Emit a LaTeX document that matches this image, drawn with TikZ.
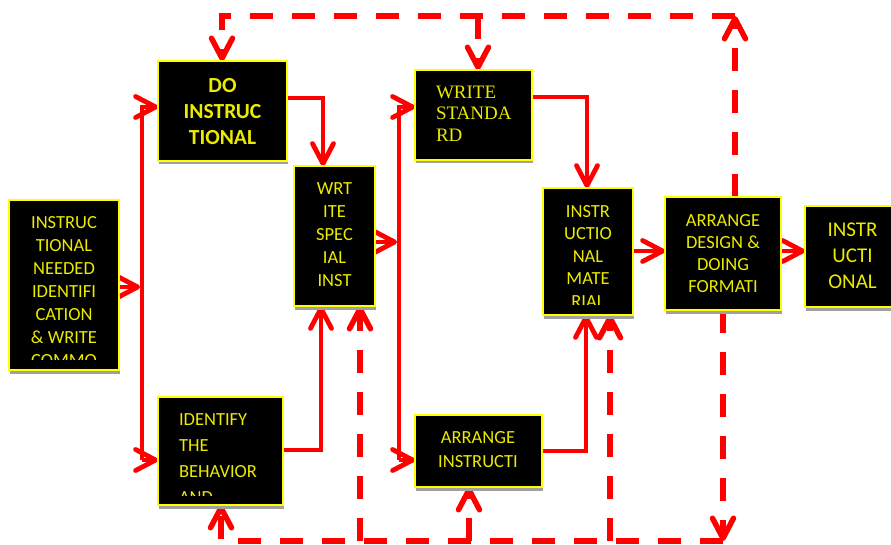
\documentclass[tikz,border=0pt]{standalone}
\usepackage{fontspec}
\newfontfamily\calfont{Carlito}
\newfontfamily\timesfont{Liberation Serif}
\usetikzlibrary{arrows.meta,shadows}
\pgfdeclarelayer{bg}
\pgfsetlayers{bg,main}
\definecolor{lred}{RGB}{255,0,0}
\definecolor{byel}{RGB}{255,255,0}
\definecolor{tyel}{RGB}{235,235,0}
\definecolor{shgray}{RGB}{160,160,160}
\begin{document}
\begin{tikzpicture}[x=1pt,y=-1pt,
  box/.style={draw=byel, line width=1.8pt, fill=black, rectangle, anchor=north west,
    inner sep=0pt, outer sep=0pt,
    drop shadow={shadow xshift=1pt, shadow yshift=-3.5pt, fill=shgray, opacity=1}},
  txt/.style={text=tyel, inner sep=0pt, outer sep=0pt},
  reg/.style={font=\calfont\fontsize{18.5pt}{23pt}\selectfont},
  sline/.style={draw=lred, line width=4.8pt},
  dline/.style={draw=lred, line width=5.5pt, dash pattern=on 23pt off 19pt},
  tip/.style={-{Straight Barb[length=20pt,width=21pt,round]}}
]
\useasboundingbox (0,0) rectangle (891,545);

% boxes
\node[box, minimum width=110pt, minimum height=170pt] (b1) at (9,200) {};
\node[box, minimum width=129pt, minimum height=100pt] (do) at (158,61) {};
\node[box, minimum width=117pt, minimum height=90pt] (ws) at (415,70) {};
\node[box, minimum width=81pt, minimum height=140pt] (wrt) at (294,166) {};
\node[box, minimum width=90pt, minimum height=127pt] (im) at (543,188) {};
\node[box, minimum width=116pt, minimum height=113pt] (ad) at (665,197) {};
\node[box, minimum width=96pt, minimum height=101pt] (fin) at (805,206) {};
\node[box, minimum width=125pt, minimum height=108pt] (id) at (158,397) {};
\node[box, minimum width=127pt, minimum height=72pt] (ai) at (415,415) {};

% texts
\begin{scope}
  \clip (10,201) rectangle (118,359);
  \node[txt, reg, align=center, anchor=north] (t1) at (64,216.5)
    {INSTRUC\\TIONAL\\NEEDED\\IDENTIFI\\CATION\\\& WRITE\\COMMO};
\end{scope}
\node[txt, align=center, anchor=north, font=\calfont\bfseries\fontsize{21.5pt}{26pt}\selectfont]
  (t2) at (222.5,78.5) {DO\\INSTRUC\\TIONAL};
\begin{scope}
  \clip (416,71) rectangle (531,148.8);
  \node[txt, align=left, anchor=north west, font=\timesfont\fontsize{19pt}{21.5pt}\selectfont]
    (t3) at (436,86) {WRITE\\STANDA\\RD\\REFERE};
\end{scope}
\node[txt, reg, align=center, anchor=north] (t4) at (334.5,182.3) {WRT\\ITE\\SPEC\\IAL\\INST};
\begin{scope}
  \clip (544,189) rectangle (632,304);
  \node[txt, align=center, anchor=north, font=\calfont\fontsize{18.5pt}{22.5pt}\selectfont]
    (t5) at (588,205) {INSTR\\UCTIO\\NAL\\MATE\\RIAL};
\end{scope}
\node[txt, align=center, anchor=north, font=\calfont\fontsize{18.5pt}{22.3pt}\selectfont]
  (t6) at (723,214) {ARRANGE\\DESIGN \&\\DOING\\FORMATI};
\node[txt, align=center, anchor=north, font=\calfont\fontsize{21pt}{26pt}\selectfont]
  (t7) at (852.5,223.3) {INSTR\\UCTI\\ONAL};
\begin{scope}
  \clip (159,398) rectangle (282,495);
  \node[txt, align=left, anchor=north west, font=\calfont\fontsize{18.5pt}{26pt}\selectfont]
    (t8) at (179,414) {IDENTIFY\\THE\\BEHAVIOR\\AND};
\end{scope}
\node[txt, reg, align=center, anchor=north, font=\calfont\fontsize{18.5pt}{24pt}\selectfont]
  (t9) at (478,431.7) {ARRANGE\\INSTRUCTI};

% connectors
\begin{pgfonlayer}{bg}
\coordinate (a1) at (140,287);
\coordinate (v1t) at (142,107);
\coordinate (v1b) at (142,460);
\draw[sline,tip] (b1.east |- a1) -- (a1);
\draw[sline,tip] (v1b) -- (v1t) -- (v1t -| do.west);
\draw[sline,tip] (v1b) -- (v1b -| id.west);

\coordinate (c2) at (323,98);
\draw[sline,tip] (do.east |- c2) -- (c2) -- (c2 |- wrt.north);
\coordinate (c3) at (321,450);
\draw[sline,tip] (id.east |- c3) -- (c3) -- (c3 |- wrt.south);

\coordinate (a4) at (397,242);
\draw[sline,tip] (wrt.east |- a4) -- (a4);
\coordinate (v2t) at (399,107);
\coordinate (v2b) at (399,460);
\draw[sline,tip] (v2b) -- (v2t) -- (v2t -| ws.west);
\draw[sline,tip] (v2b) -- (v2b -| ai.west);

\coordinate (c5) at (587,97);
\draw[sline,tip] (ws.east |- c5) -- (c5) -- (c5 |- im.north);
\coordinate (c6) at (586,451);
\draw[sline,tip] (ai.east |- c6) -- (c6) -- (c6 |- im.south);
\coordinate (c7) at (650,251);
\draw[sline,tip] (im.east |- c7) -- (ad.west |- c7);
\coordinate (c8) at (793,251);
\draw[sline,tip] (ad.east |- c8) -- (fin.west |- c8);

% dashed feedback
\coordinate (tr) at (735,16);
\coordinate (tl) at (222,16);
\coordinate (tm) at (478,16);
\draw[dline,tip] (ad.north -| tr) -- (tr);
\draw[dline,tip] (tr) -- (tl) -- (tl |- do.north);
\draw[dline,tip] (tm) -- (tm |- ws.north);

\coordinate (br) at (723,541);
\coordinate (bl) at (221,541);
\coordinate (bw) at (360,541);
\coordinate (ba) at (469,541);
\coordinate (bm) at (610,541);
\draw[dline,tip] (ad.south -| br) -- (br);
\draw[dline,tip] (br) -- (bl) -- (bl |- id.south);
\draw[dline,tip] (bw) -- (bw |- wrt.south);
\draw[dline,tip] (ba) -- (ba |- ai.south);
\draw[dline,tip] (bm) -- (bm |- im.south);
\end{pgfonlayer}
\end{tikzpicture}
\end{document}
